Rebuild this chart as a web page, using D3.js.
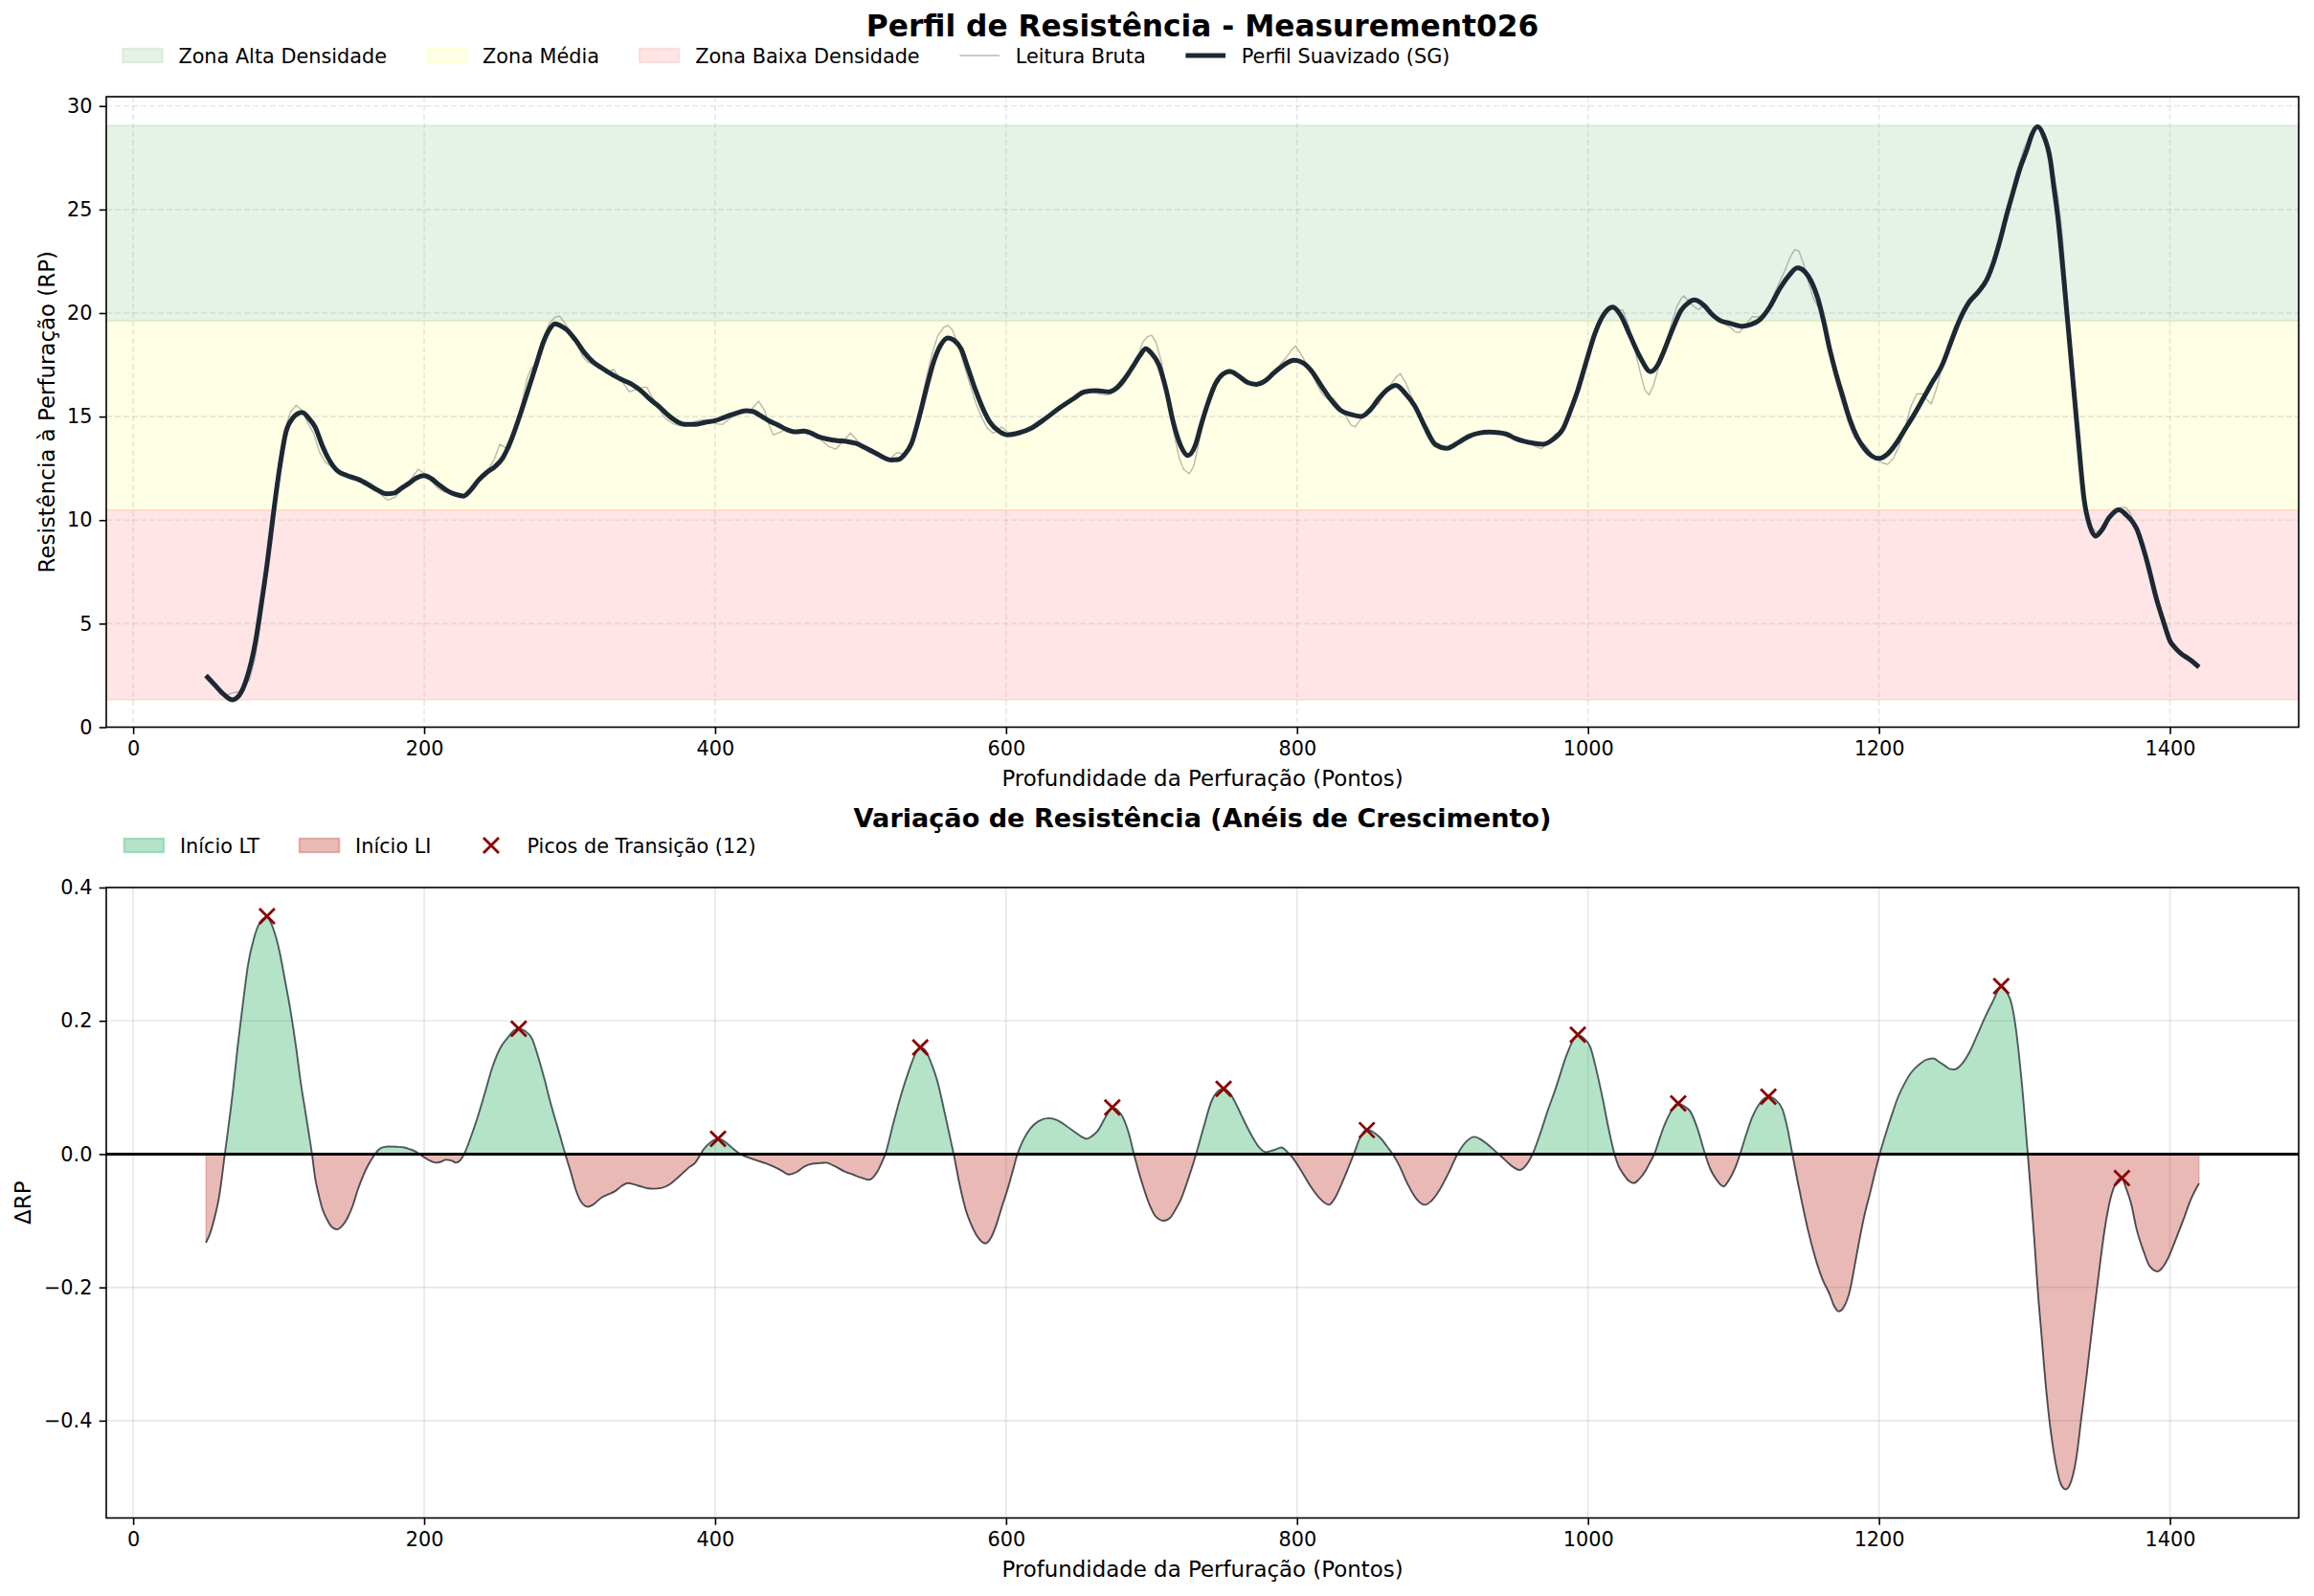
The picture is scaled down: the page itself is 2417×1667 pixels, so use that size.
<!DOCTYPE html>
<html>
<head>
<meta charset="utf-8">
<script src="https://cdn.jsdelivr.net/npm/d3@7"></script>
<style>
  body { margin: 0; background: #fff; }
  svg { display: block; font-family: "DejaVu Sans", sans-serif; }
</style>
</head>
<body>
<div id="chart"></div>
<script>
// ---- values ----
var rpDepth = [
  50,56,62,68,73,78,84,88,92,96,
  100,105,110,116,121,125,130,134,140,147,
  155,162,168,174,179,184,190,195,200,205,
  210,216,221,227,232,237,243,249,254,260,
  266,272,277,282,286,290,294,298,304,310,
  316,322,330,337,343,349,355,362,368,374,
  379,386,393,400,407,414,421,426,431,437,
  443,449,455,461,466,471,477,484,490,497,
  503,510,516,521,526,530,535,540,545,550,
  555,560,564,569,574,579,584,589,595,601,
  609,617,627,637,646,654,662,671,676,681,
  687,692,696,700,705,710,715,720,725,730,
  734,739,744,749,754,760,766,772,778,784,
  791,798,804,810,817,824,830,837,844,850,
  856,862,868,874,881,888,895,903,911,918,
  925,932,939,944,950,956,962,969,976,983,
  988,993,999,1005,1011,1017,1022,1029,1036,1043,
  1048,1052,1058,1064,1069,1073,1080,1085,1090,1098,
  1106,1112,1118,1125,1132,1138,1144,1149,1154,1158,
  1162,1166,1170,1175,1180,1185,1190,1195,1200,1206,
  1212,1218,1224,1231,1237,1243,1249,1255,1262,1268,
  1274,1279,1283,1288,1292,1297,1302,1305,1309,1313,
  1318,1320,1323,1327,1332,1337,1341,1345,1349,1353,
  1358,1365,1370,1374,1377,1384,1391,1396,1400,1404,
  1407,1414,1420
];
var rpSmooth = [
  2.50,2.05,1.6,1.32,1.55,2.35,4.1,5.9,7.85,10.1,
  12.2,14.25,14.95,15.2,14.9,14.5,13.6,13.0,12.4,12.15,
  11.96,11.7,11.45,11.27,11.3,11.52,11.8,12.05,12.15,12.0,
  11.72,11.42,11.25,11.16,11.45,11.9,12.3,12.6,13.0,13.9,
  15.1,16.4,17.5,18.6,19.2,19.48,19.38,19.2,18.7,18.1,
  17.65,17.35,17.0,16.75,16.55,16.25,15.85,15.45,15.05,14.75,
  14.62,14.62,14.72,14.8,14.98,15.15,15.28,15.25,15.05,14.8,
  14.6,14.38,14.26,14.3,14.2,14.03,13.92,13.84,13.8,13.7,
  13.5,13.25,13.02,12.9,12.92,13.15,13.7,14.9,16.3,17.6,
  18.45,18.8,18.7,18.28,17.3,16.28,15.4,14.72,14.3,14.12,
  14.22,14.43,14.9,15.43,15.85,16.2,16.25,16.2,16.38,16.78,
  17.4,17.95,18.28,18.05,17.5,16.3,14.7,13.6,13.12,13.6,
  14.58,15.7,16.6,17.05,17.18,16.95,16.65,16.56,16.72,17.1,
  17.5,17.72,17.6,17.2,16.45,15.75,15.3,15.1,15.01,15.3,
  15.85,16.3,16.51,16.15,15.5,14.5,13.66,13.47,13.75,14.04,
  14.2,14.25,14.22,14.15,13.95,13.81,13.72,13.66,13.9,14.43,
  15.3,16.28,17.7,19.06,19.95,20.29,19.95,18.9,17.85,17.17,
  17.5,18.13,19.2,20.13,20.5,20.63,20.35,19.95,19.67,19.5,
  19.36,19.45,19.67,20.3,21.2,21.8,22.18,22.0,21.45,20.7,
  19.6,18.3,17.2,16.0,14.85,14.0,13.45,13.1,12.98,13.2,
  13.72,14.4,15.08,15.95,16.7,17.42,18.5,19.6,20.53,21.0,
  21.6,22.5,23.45,24.8,25.8,27.0,27.95,28.6,29.0,28.6,
  27.3,26.2,24.6,21.7,17.8,13.9,11.0,9.7,9.23,9.5,
  10.1,10.5,10.25,9.95,9.6,8.07,6.13,5.0,4.17,3.8,
  3.59,3.25,2.9
];

var rawDepth = [
  50,55,60,64,68,72,76,80,84,88,
  92,96,100,104,108,112,116,120,124,128,
  132,136,140,145,150,155,160,165,170,175,
  180,185,190,196,201,206,210,214,219,224,
  229,234,239,244,248,252,256,259,263,267,
  271,274,278,282,286,290,293,297,301,305,
  309,312,317,322,326,330,334,338,341,345,
  349,353,357,362,366,371,376,381,386,391,
  396,401,405,410,415,420,425,430,434,437,
  440,445,450,455,460,465,470,474,478,483,
  488,493,497,502,506,510,515,520,525,529,
  533,537,541,545,549,553,557,560,563,567,
  571,575,579,583,587,591,594,597,600,605,
  612,620,630,640,650,657,664,670,675,680,
  685,690,694,697,700,703,707,711,715,719,
  722,726,729,733,737,741,745,749,753,757,
  762,767,772,777,782,787,792,796,799,802,
  806,810,814,817,821,825,829,834,837,840,
  844,848,852,856,860,864,868,871,875,879,
  884,889,894,899,904,910,916,922,929,936,
  942,948,954,960,964,968,972,977,981,985,
  990,995,1000,1005,1010,1015,1019,1024,1028,1032,
  1036,1039,1042,1045,1049,1053,1057,1061,1064,1066,
  1070,1073,1076,1080,1084,1088,1093,1098,1101,1104,
  1108,1113,1117,1121,1126,1131,1135,1139,1142,1145,
  1148,1151,1155,1159,1163,1167,1171,1175,1179,1183,
  1187,1191,1195,1199,1203,1206,1210,1214,1218,1222,
  1226,1230,1233,1236,1240,1244,1248,1252,1256,1260,
  1265,1270,1275,1280,1285,1290,1295,1300,1304,1308,
  1311,1314,1317,1320,1323,1326,1329,1332,1335,1338,
  1341,1344,1347,1350,1354,1358,1362,1366,1370,1373,
  1376,1380,1384,1388,1392,1396,1400,1405,1410,1415,
  1420
];
var rawValue = [
  2.45,2.1,1.75,1.55,1.65,1.7,1.9,2.3,3.4,5.3,
  8.0,10.5,12.7,14.3,15.2,15.55,15.3,14.7,14.2,13.3,
  12.8,12.6,12.35,12.3,12.0,11.95,11.85,11.5,11.25,10.96,
  11.1,11.5,11.9,12.46,12.2,11.8,11.5,11.35,11.4,11.3,
  11.2,11.6,11.95,12.45,12.9,13.66,13.5,13.45,14.3,15.6,
  16.9,17.35,17.6,18.8,19.5,19.8,19.86,19.5,19.0,18.5,
  17.9,17.66,17.5,17.3,17.1,17.28,16.9,16.5,16.2,16.3,
  16.4,16.43,15.9,15.3,14.9,14.66,14.55,14.6,14.75,14.85,
  14.75,14.65,14.62,14.9,15.1,15.2,15.35,15.74,15.3,14.6,
  14.12,14.25,14.45,14.3,14.4,14.35,14.05,13.8,13.55,13.43,
  13.8,14.2,13.9,13.5,13.25,13.2,13.05,12.95,13.26,13.2,
  13.4,14.2,15.4,16.8,18.0,18.9,19.3,19.4,19.2,18.5,
  17.5,16.6,15.7,15.0,14.45,14.2,14.3,14.5,14.3,14.1,
  14.25,14.5,15.05,15.55,16.05,16.25,16.1,16.05,16.25,16.5,
  17.0,17.8,18.6,18.85,18.93,18.6,17.6,16.0,14.3,13.0,
  12.45,12.24,12.6,13.9,15.2,16.28,16.7,17.05,17.3,17.1,
  16.8,16.6,16.45,16.6,17.0,17.4,17.8,18.2,18.4,18.1,
  17.6,17.1,16.5,16.12,15.85,15.9,15.5,14.95,14.6,14.5,
  14.9,15.3,15.55,15.6,16.1,16.5,16.9,17.07,16.6,15.9,
  15.0,14.1,13.56,13.5,13.55,13.75,14.0,14.2,14.3,14.25,
  14.2,14.0,13.85,13.7,13.55,13.45,13.7,14.12,14.3,14.7,
  15.7,16.9,18.0,19.1,19.9,20.3,20.2,20.13,19.4,18.3,
  17.1,16.3,16.05,16.5,17.5,18.3,19.4,20.3,20.7,20.83,
  20.5,20.3,20.17,20.4,20.0,19.7,19.5,19.3,19.1,19.05,
  19.4,19.83,19.8,20.0,20.6,21.4,22.0,22.7,23.06,23.0,
  22.4,21.6,20.7,20.2,19.0,17.8,16.6,15.6,14.7,14.0,
  13.8,13.6,13.2,12.9,12.75,12.7,13.0,13.6,14.5,15.5,
  16.09,16.1,15.8,15.62,16.45,17.6,18.6,19.36,19.8,20.3,
  20.8,21.3,21.8,22.7,24.0,25.5,26.9,28.0,28.6,28.9,
  28.9,28.5,27.8,26.8,25.6,23.8,21.0,18.2,15.2,12.6,
  10.9,10.0,9.6,9.4,9.7,10.2,10.55,10.6,10.6,10.3,
  9.7,8.9,8.0,7.0,6.0,5.0,4.2,3.75,3.45,3.2,
  2.9
];

// density zones (limits of the shaded bands, RP units)
var zoneLow  = [19.62, 10.49, 1.32];
var zoneHigh = [29.06, 19.62, 10.49];
var zoneColor = ["green", "yellow", "red"];
var zoneLabel = ["Zona Alta Densidade", "Zona Média", "Zona Baixa Densidade"];

var deltaDepth = [
  50,53,56,59,63,68.6,72,75.7,79,83,
  87,91.8,96,100.7,104,108,112,115,119,122.9,
  125,127.5,130,133,136,140,143.5,147,151,154.3,
  158,161.4,165,168.6,172,175.7,181,186.4,190,193.6,
  197,200.7,204,207.9,211,215,219,222,225,227.5,
  232,236.4,241.5,247,252,257.9,262,265,269,274,
  278.5,283,286.5,290,293.5,297,300.5,304.3,308,312.5,
  316,322,327,331,336,340,345,349,354,358,
  363,368.6,373,377.5,382,386.4,389,391.8,397,402.5,
  407,411.4,415,418.6,424,429.3,435,440,445,450.7,
  456,461.4,467,472,476,482,488.6,495,500,505.7,
  509,511.7,514.5,517,522,527.8,534,538,541.3,545,
  549,552.7,557,560.5,564,568,572.2,576.5,581,585.8,
  590,593.6,597,601,604.5,607.8,612,616.7,622,629.2,
  635,641.6,648,652,655.2,659,663,668,673,677,
  680.8,684.5,687.9,693,698.6,703,708.5,713,716.5,720,
  724,727.5,730.6,736,741.3,745,749.5,754,759,764,
  769.8,774,778.6,784,789.3,793,796.4,802,808.9,815,
  822,826,830.2,835,839,843,848,853,858.7,862,
  865.8,870,876.5,882,887.9,892,897.9,904,910.3,916,
  922,927,933.5,937,940.6,945,949,953,957,961.9,
  967,972.6,978,985,990,993.1,997,1001.7,1006,1010.3,
  1014,1018.2,1021,1024,1028,1031.5,1035,1039.4,1042,1045.6,
  1049,1053,1057,1061.7,1066,1070.3,1075,1080.5,1084,1086.7,
  1093.2,1096,1099.4,1102,1104.5,1108.5,1113,1118,1124.4,1129,
  1133.7,1137,1140.5,1144,1147.4,1151,1156,1161,1166.2,1169,
  1172.4,1176,1180,1183.5,1186.8,1190,1193.6,1197,1200.5,1205,
  1209,1213,1217.6,1222,1227.9,1233,1237.5,1241,1245,1248.5,
  1251.9,1256,1262.2,1267,1272.4,1278,1284.4,1288,1291.3,1294,
  1296.4,1299.5,1302.3,1304.5,1306.7,1309,1311.9,1315,1318.7,1322,
  1325,1328.3,1331,1335.8,1339,1342.7,1347,1351.3,1355,1359.8,
  1363,1366.7,1370,1373.5,1377,1382.1,1386,1391.7,1395,1399.2,
  1404,1409.5,1414,1420
];
var deltaValue = [
  -0.133,-0.118,-0.095,-0.065,0.0,0.096,0.165,0.231,0.285,0.324,
  0.347,0.356,0.34,0.303,0.265,0.217,0.16,0.11,0.055,0.0,
  -0.035,-0.061,-0.082,-0.097,-0.108,-0.113,-0.108,-0.097,-0.077,-0.054,
  -0.033,-0.017,-0.004,0.0064,0.0105,0.0114,0.011,0.01,0.0075,0.0043,
  -0.0005,-0.0057,-0.01,-0.0129,-0.012,-0.0086,-0.01,-0.0129,-0.009,0.0,
  0.025,0.053,0.09,0.131,0.158,0.176,0.186,0.1886,0.185,0.174,
  0.145,0.11,0.08,0.053,0.027,0.0,-0.025,-0.054,-0.072,-0.079,
  -0.076,-0.065,-0.06,-0.056,-0.0475,-0.0436,-0.046,-0.0486,-0.0515,-0.052,
  -0.051,-0.0457,-0.038,-0.029,-0.02,-0.0129,-0.004,0.0064,0.018,0.0229,
  0.018,0.01,0.0035,-0.0014,-0.006,-0.01,-0.014,-0.0186,-0.024,-0.0307,
  -0.027,-0.0186,-0.0145,-0.0135,-0.0129,-0.018,-0.0257,-0.031,-0.035,-0.0386,
  -0.034,-0.0257,-0.013,0.0,0.042,0.0886,0.13,0.152,0.16,0.154,
  0.134,0.11,0.07,0.035,0.0,-0.045,-0.083,-0.108,-0.126,-0.134,
  -0.124,-0.104,-0.08,-0.053,-0.026,0.0,0.022,0.0386,0.049,0.054,
  0.051,0.042,0.032,0.026,0.023,0.027,0.035,0.054,0.070,0.065,
  0.053,0.03,0.0,-0.04,-0.076,-0.094,-0.1,-0.095,-0.083,-0.069,
  -0.045,-0.022,0.0,0.042,0.08,0.093,0.098,0.091,0.071,0.048,
  0.024,0.01,0.003,0.006,0.01,0.004,-0.004,-0.022,-0.047,-0.065,
  -0.076,-0.066,-0.047,-0.022,0.0,0.023,0.037,0.032,0.021,0.011,
  0.0,-0.016,-0.047,-0.067,-0.076,-0.071,-0.054,-0.029,0.0,0.018,
  0.026,0.021,0.01,0.003,-0.004,-0.013,-0.02,-0.024,-0.018,0.0,
  0.03,0.067,0.1,0.147,0.172,0.179,0.174,0.16,0.124,0.081,
  0.04,0.0,-0.018,-0.029,-0.04,-0.0436,-0.038,-0.0257,-0.015,0.0,
  0.022,0.046,0.064,0.076,0.072,0.064,0.04,0.0,-0.022,-0.033,
  -0.0486,-0.042,-0.029,-0.016,0.0,0.028,0.056,0.076,0.086,0.081,
  0.067,0.04,0.0,-0.04,-0.076,-0.112,-0.154,-0.187,-0.211,-0.227,
  -0.236,-0.229,-0.205,-0.165,-0.126,-0.092,-0.061,-0.03,0.0,0.033,
  0.06,0.085,0.106,0.122,0.135,0.142,0.1436,0.139,0.133,0.128,
  0.127,0.133,0.153,0.176,0.203,0.228,0.252,0.243,0.224,0.19,
  0.146,0.075,0.0,-0.062,-0.126,-0.2,-0.276,-0.355,-0.426,-0.47,
  -0.495,-0.503,-0.497,-0.454,-0.398,-0.333,-0.252,-0.176,-0.115,-0.061,
  -0.043,-0.036,-0.052,-0.076,-0.112,-0.147,-0.168,-0.176,-0.17,-0.154,
  -0.128,-0.097,-0.07,-0.044
];

var peakDepth = [92, 265, 402, 541, 673, 749.5, 848, 993, 1062, 1124, 1284, 1367];
var peakValue = [0.357, 0.188, 0.023, 0.160, 0.070, 0.098, 0.036, 0.179, 0.076, 0.086, 0.252, -0.036];

var xTicks = [0, 200, 400, 600, 800, 1000, 1200, 1400];
var rpTicks = [0, 5, 10, 15, 20, 25, 30];
var deltaTicks = [-0.4, -0.2, 0.0, 0.2, 0.4];

var mainTitle = "Perfil de Resistência - Measurement026";
var subTitle = "Variação de Resistência (Anéis de Crescimento)";
var xLabel = "Profundidade da Perfuração (Pontos)";
var rpLabel = "Resistência à Perfuração (RP)";
var deltaLabel = "ΔRP";

// ---- layout ----
var svgWidth = 2417, svgHeight = 1667;
var font = "DejaVu Sans";
var tickFont = 20.8, legendFont = 20.8, labelFont = 22.9;

var svg = d3.select("#chart").append("svg")
    .attr("width", svgWidth)
    .attr("height", svgHeight);

var x = d3.scaleLinear().domain([-18.5, 1488.5]).range([111, 2401]);
var yRP = d3.scaleLinear().domain([0, 30.45]).range([759.5, 101]);
var yDelta = d3.scaleLinear().domain([-0.546, 0.4]).range([1585.5, 927]);

var rpData = rpDepth.map((d, i) => ({x: d, y: rpSmooth[i]}));
var rawData = rawDepth.map((d, i) => ({x: d, y: rawValue[i]}));
var deltaData = deltaDepth.map((d, i) => ({x: d, y: deltaValue[i]}));
var peakData = peakDepth.map((d, i) => ({x: d, y: peakValue[i]}));

function drawGrid(y, yTicks, dash) {
  var top = y.range()[1], bottom = y.range()[0];
  var g = svg.append("g")
      .attr("stroke", "#b0b0b0")
      .attr("stroke-opacity", 0.3)
      .attr("stroke-width", 1.6);
  if (dash) g.attr("stroke-dasharray", dash);
  g.selectAll(".gx").data(xTicks).enter().append("line")
      .attr("x1", d => x(d)).attr("x2", d => x(d))
      .attr("y1", top).attr("y2", bottom);
  g.selectAll(".gy").data(yTicks).enter().append("line")
      .attr("x1", x.range()[0]).attr("x2", x.range()[1])
      .attr("y1", d => y(d)).attr("y2", d => y(d));
}

function drawAxes(y, yTicks, yFmt, yLabel, yLabelX) {
  var top = y.range()[1], bottom = y.range()[0];
  var left = x.range()[0], right = x.range()[1];

  var gx = svg.append("g")
      .attr("transform", `translate(0, ${bottom})`)
      .call(d3.axisBottom(x).tickValues(xTicks).tickSize(7.3).tickPadding(7.3).tickFormat(d3.format("d")));
  var gy = svg.append("g")
      .attr("transform", `translate(${left}, 0)`)
      .call(d3.axisLeft(y).tickValues(yTicks).tickSize(7.3).tickPadding(7.3).tickFormat(yFmt));

  [gx, gy].forEach(function(g) {
    g.attr("font-size", tickFont).attr("font-family", font);
    g.select(".domain").remove();
    g.selectAll(".tick line").attr("stroke", "#000").attr("stroke-width", 1.6);
    g.selectAll(".tick text").attr("fill", "#000");
  });

  svg.append("rect")
      .attr("x", left).attr("y", top)
      .attr("width", right - left).attr("height", bottom - top)
      .attr("fill", "none")
      .attr("stroke", "#000")
      .attr("stroke-width", 1.6);

  // x label
  svg.append("text")
      .attr("x", (left + right) / 2)
      .attr("y", bottom + 61)
      .attr("text-anchor", "middle")
      .attr("font-size", labelFont)
      .text(xLabel);

  // y label
  svg.append("text")
      .attr("transform", `translate(${yLabelX}, ${(top + bottom) / 2}) rotate(-90)`)
      .attr("text-anchor", "middle")
      .attr("font-size", labelFont)
      .text(yLabel);
}

// legend laid out like matplotlib: handle 2em, pad 0.8em, column gap 2em
function drawLegend(items, x0, baseline) {
  var g = svg.append("g").attr("font-size", legendFont);
  var hl = 41.7, pad = 16.7, gap = 41.7, hh = 14.6;
  var cy = baseline - 8;
  var cx = x0;
  items.forEach(function(it) {
    if (it.type === "patch") {
      g.append("rect")
          .attr("x", cx).attr("y", cy - hh / 2)
          .attr("width", hl).attr("height", hh)
          .attr("fill", it.color).attr("fill-opacity", it.alpha)
          .attr("stroke", it.color).attr("stroke-opacity", it.alpha)
          .attr("stroke-width", 1.7);
    } else if (it.type === "line") {
      g.append("line")
          .attr("x1", cx).attr("x2", cx + hl)
          .attr("y1", cy).attr("y2", cy)
          .attr("stroke", it.color).attr("stroke-opacity", it.alpha)
          .attr("stroke-width", it.width);
    } else {
      g.append("path")
          .attr("transform", `translate(${cx + hl / 2}, ${cy})`)
          .attr("d", "M-8,-8L8,8M-8,8L8,-8")
          .attr("stroke", it.color)
          .attr("stroke-width", 2.8);
    }
    var t = g.append("text")
        .attr("x", cx + hl + pad)
        .attr("y", baseline)
        .text(it.label);
    cx += hl + pad + t.node().getComputedTextLength() + gap;
  });
}

// ================= top panel =================
svg.append("text")
    .attr("x", 1256).attr("y", 38)
    .attr("text-anchor", "middle")
    .attr("font-size", 31.25)
    .attr("font-weight", "bold")
    .text(mainTitle);

// zone bands
zoneLow.forEach(function(lo, i) {
  svg.append("rect")
      .attr("x", x.range()[0])
      .attr("y", yRP(zoneHigh[i]))
      .attr("width", x.range()[1] - x.range()[0])
      .attr("height", yRP(lo) - yRP(zoneHigh[i]))
      .attr("fill", zoneColor[i]).attr("fill-opacity", 0.1)
      .attr("stroke", zoneColor[i]).attr("stroke-opacity", 0.1)
      .attr("stroke-width", 1.6);
});

drawGrid(yRP, rpTicks, "6,3");

svg.append("path")
    .datum(rawData)
    .attr("fill", "none")
    .attr("stroke", "#808080")
    .attr("stroke-opacity", 0.55)
    .attr("stroke-width", 1.4)
    .attr("d", d3.line().x(d => x(d.x)).y(d => yRP(d.y)));

svg.append("path")
    .datum(rpData)
    .attr("fill", "none")
    .attr("stroke", "#1c2833")
    .attr("stroke-width", 5)
    .attr("stroke-linejoin", "round")
    .attr("d", d3.line().curve(d3.curveMonotoneX).x(d => x(d.x)).y(d => yRP(d.y)));

drawAxes(yRP, rpTicks, d3.format("d"), rpLabel, 56.5);

drawLegend([
  {type: "patch", color: zoneColor[0], alpha: 0.1, label: zoneLabel[0]},
  {type: "patch", color: zoneColor[1], alpha: 0.1, label: zoneLabel[1]},
  {type: "patch", color: zoneColor[2], alpha: 0.1, label: zoneLabel[2]},
  {type: "line", color: "#808080", alpha: 0.55, width: 1.4, label: "Leitura Bruta"},
  {type: "line", color: "#1c2833", alpha: 1, width: 5, label: "Perfil Suavizado (SG)"}
], 128, 66);

// ================= bottom panel =================
svg.append("text")
    .attr("x", 1256).attr("y", 864)
    .attr("text-anchor", "middle")
    .attr("font-size", 27.1)
    .attr("font-weight", "bold")
    .text(subTitle);

drawGrid(yDelta, deltaTicks, null);

var zeroY = yDelta(0);
var defs = svg.append("defs");
defs.append("clipPath").attr("id", "clipPos").append("rect")
    .attr("x", x.range()[0]).attr("y", yDelta.range()[1])
    .attr("width", x.range()[1] - x.range()[0]).attr("height", zeroY - yDelta.range()[1]);
defs.append("clipPath").attr("id", "clipNeg").append("rect")
    .attr("x", x.range()[0]).attr("y", zeroY)
    .attr("width", x.range()[1] - x.range()[0]).attr("height", yDelta.range()[0] - zeroY);

var deltaArea = d3.area().curve(d3.curveMonotoneX)
    .x(d => x(d.x)).y0(zeroY).y1(d => yDelta(d.y));

svg.append("path")
    .datum(deltaData)
    .attr("clip-path", "url(#clipPos)")
    .attr("fill", "#27ae60").attr("fill-opacity", 0.35)
    .attr("d", deltaArea);
svg.append("path")
    .datum(deltaData)
    .attr("clip-path", "url(#clipNeg)")
    .attr("fill", "#c0392b").attr("fill-opacity", 0.35)
    .attr("stroke", "#c0392b").attr("stroke-opacity", 0.3)
    .attr("stroke-width", 1.2)
    .attr("d", deltaArea);

svg.append("path")
    .datum(deltaData)
    .attr("fill", "none")
    .attr("stroke", "#1c2833")
    .attr("stroke-opacity", 0.75)
    .attr("stroke-width", 1.9)
    .attr("d", d3.line().curve(d3.curveMonotoneX).x(d => x(d.x)).y(d => yDelta(d.y)));

svg.append("line")
    .attr("x1", x.range()[0]).attr("x2", x.range()[1])
    .attr("y1", zeroY).attr("y2", zeroY)
    .attr("stroke", "#000")
    .attr("stroke-width", 3);

svg.selectAll(".peak")
    .data(peakData)
    .enter()
    .append("path")
    .attr("class", "peak")
    .attr("transform", d => `translate(${x(d.x)}, ${yDelta(d.y)})`)
    .attr("d", "M-8,-8L8,8M-8,8L8,-8")
    .attr("stroke", "#8b0000")
    .attr("stroke-width", 2.8);

drawAxes(yDelta, deltaTicks, d3.format(".1f"), deltaLabel, 32);

drawLegend([
  {type: "patch", color: "#27ae60", alpha: 0.35, label: "Início LT"},
  {type: "patch", color: "#c0392b", alpha: 0.35, label: "Início LI"},
  {type: "marker", color: "#8b0000", label: "Picos de Transição (" + peakDepth.length + ")"}
], 129.5, 891);
</script>
</body>
</html>
